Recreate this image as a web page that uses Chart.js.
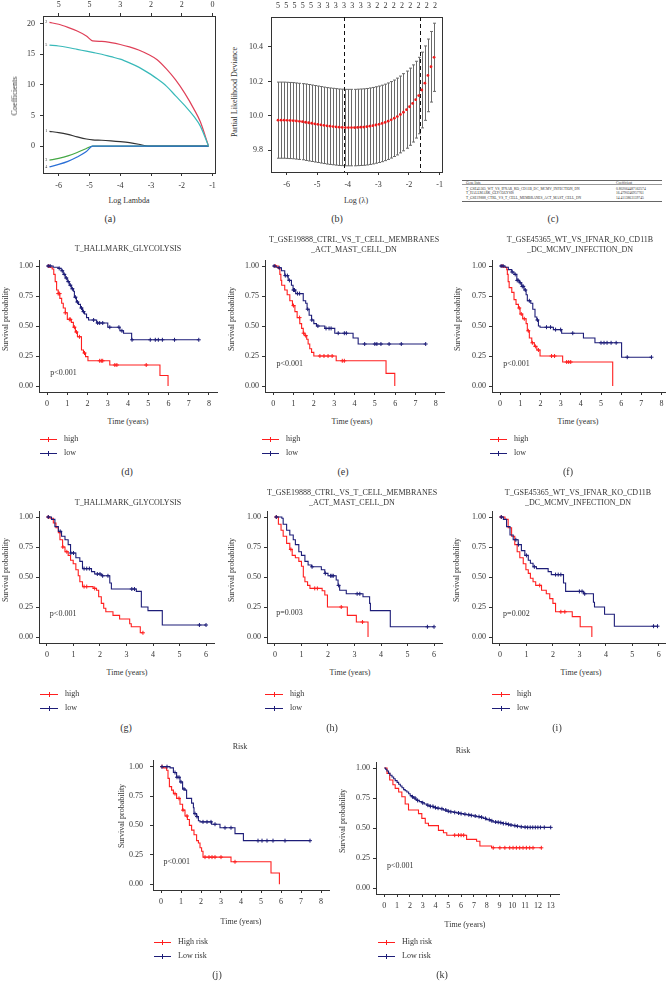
<!DOCTYPE html>
<html>
<head>
<meta charset="utf-8">
<script src="https://cdn.jsdelivr.net/npm/chart.js@4.4.1/dist/chart.umd.min.js"></script>
<style>
  html, body { margin: 0; padding: 0; background: #fff; }
  body { width: 666px; height: 981px; position: relative; overflow: hidden; font-family: "Liberation Serif", serif; color: #333; }
  canvas { position: absolute; }
  .t { position: absolute; white-space: nowrap; transform: translate(-50%, -50%); font-size: 8px; line-height: 1; }
  .l { position: absolute; white-space: nowrap; transform: translate(0, -50%); font-size: 8px; line-height: 1; }
  .lg { position: absolute; }
</style>
</head>
<body>
<script>
// ---- (a) lasso coefficient paths ----
const pathX = [-6.3, -6.0, -5.7, -5.4, -5.1, -4.9, -4.6, -4.3, -4.0, -3.7, -3.4, -3.1, -2.8, -2.5, -2.2, -1.9, -1.6, -1.4, -1.13];
const coef1 = [2.4, 2.2, 1.9, 1.5, 1.15, 1.0, 0.95, 0.85, 0.72, 0.55, 0.3, 0, 0, 0, 0, 0, 0, 0, 0];
const coef2 = [20.2, 19.9, 19.4, 18.8, 18.0, 17.2, 17.1, 16.9, 16.6, 16.2, 15.7, 15.0, 14.1, 12.6, 10.8, 8.6, 6.0, 4.0, 0];
const coef3 = [-2.3, -2.0, -1.6, -1.05, -0.4, 0, 0, 0, 0, 0, 0, 0, 0, 0, 0, 0, 0, 0, 0];
const coef4 = [-3.4, -3.0, -2.5, -1.8, -0.9, 0, 0, 0, 0, 0, 0, 0, 0, 0, 0, 0, 0, 0, 0];
const coef5 = [16.5, 16.35, 16.1, 15.8, 15.5, 15.3, 15.0, 14.6, 14.2, 13.6, 12.9, 12.0, 11.0, 9.8, 8.2, 6.6, 4.8, 3.3, 0];
const dfTicksA = [-6, -5, -4, -3, -2, -1];
const dfLabelsA = ['5', '5', '3', '2', '2', '0'];

// ---- (b) cross-validation deviance ----
const cvLam = [-6.28, -6.18, -6.08, -5.98, -5.88, -5.78, -5.68, -5.58, -5.48, -5.38, -5.28, -5.18, -5.08, -4.98, -4.88, -4.78, -4.68, -4.58, -4.48, -4.38, -4.28, -4.18, -4.08, -3.98, -3.88, -3.78, -3.68, -3.58, -3.48, -3.38, -3.28, -3.18, -3.08, -2.98, -2.88, -2.78, -2.68, -2.58, -2.48, -2.38, -2.28, -2.18, -2.08, -1.98, -1.88, -1.78, -1.68, -1.58, -1.48, -1.38, -1.28, -1.18];
const cvMean = [9.975, 9.975, 9.975, 9.974, 9.973, 9.972, 9.970, 9.968, 9.966, 9.963, 9.960, 9.957, 9.954, 9.951, 9.948, 9.945, 9.942, 9.940, 9.938, 9.936, 9.934, 9.933, 9.932, 9.932, 9.932, 9.932, 9.933, 9.934, 9.935, 9.937, 9.940, 9.943, 9.947, 9.951, 9.956, 9.962, 9.969, 9.977, 9.986, 9.996, 10.008, 10.021, 10.036, 10.053, 10.072, 10.094, 10.118, 10.150, 10.190, 10.235, 10.285, 10.340];
const cvSE = [0.221, 0.221, 0.221, 0.221, 0.221, 0.221, 0.221, 0.221, 0.221, 0.222, 0.222, 0.222, 0.222, 0.222, 0.222, 0.222, 0.222, 0.222, 0.222, 0.222, 0.222, 0.222, 0.222, 0.222, 0.222, 0.222, 0.222, 0.222, 0.222, 0.222, 0.222, 0.222, 0.222, 0.222, 0.222, 0.222, 0.222, 0.222, 0.222, 0.223, 0.223, 0.224, 0.224, 0.224, 0.224, 0.223, 0.222, 0.220, 0.216, 0.211, 0.205, 0.198];
const cvLines = [-4.11, -1.65];
const dfPosB = [-6.28, -6.01, -5.74, -5.47, -5.20, -4.93, -4.66, -4.39, -4.12, -3.85, -3.58, -3.31, -3.04, -2.77, -2.50, -2.23, -1.96, -1.69, -1.42, -1.15];
const dfLabelsB = ['5', '5', '5', '5', '5', '3', '3', '3', '3', '3', '3', '3', '2', '2', '2', '2', '2', '2', '2', '2'];

// ---- (c) table ----
const geneLists = ['T_GSE45365_WT_VS_IFNAR_KO_CD11B_DC_MCMV_INFECTION_DN', 'T_HALLMARK_GLYCOLYSIS', 'T_GSE19888_CTRL_VS_T_CELL_MEMBRANES_ACT_MAST_CELL_DN'];
const geneCoefs = ['0.802064487162574', '16.4790246957761', '14.4113863159745'];

// ---- Kaplan-Meier curves: step times (T), survival (S), censor times (C) ----
const dHiT = [0, 0.1, 0.25, 0.33, 0.4, 0.47, 0.55, 0.63, 0.72, 0.8, 0.9, 1.0, 1.2, 1.3, 1.4, 1.5, 1.7, 1.8, 1.9, 2.02, 3.1, 5.58, 5.98];
const dHiS = [1, 0.99, 0.975, 0.93, 0.87, 0.80, 0.77, 0.73, 0.69, 0.65, 0.61, 0.555, 0.53, 0.49, 0.45, 0.41, 0.30, 0.275, 0.245, 0.21, 0.175, 0.087, 0];
const dHiC = [0.08, 0.55, 0.62, 0.9, 1.1, 1.15, 1.35, 1.45, 1.6, 1.85, 2.6, 2.68, 2.75, 3.35, 3.45, 4.9];
const dLoT = [0, 0.3, 0.55, 0.7, 0.8, 0.9, 1.0, 1.1, 1.2, 1.3, 1.35, 1.45, 1.55, 1.65, 1.75, 1.85, 1.95, 2.05, 2.45, 3.0, 3.6, 3.78, 4.18];
const dLoS = [1, 0.99, 0.98, 0.96, 0.93, 0.90, 0.87, 0.84, 0.81, 0.79, 0.74, 0.70, 0.68, 0.65, 0.62, 0.60, 0.57, 0.55, 0.525, 0.49, 0.46, 0.44, 0.385];
const dLoC = [0.05, 0.15, 0.6, 0.75, 0.85, 0.95, 1.05, 1.15, 1.25, 1.4, 1.5, 1.7, 1.8, 2.3, 2.5, 2.6, 2.75, 3.1, 3.55, 3.7, 4.2, 5.1, 5.35, 5.5, 5.7, 6.3, 7.5];

const eHiT = [0, 0.25, 0.33, 0.38, 0.42, 0.57, 0.69, 0.82, 0.95, 1.07, 1.18, 1.31, 1.4, 1.48, 1.56, 1.65, 1.72, 1.8, 1.89, 2.0, 3.1, 5.55, 5.98];
const eHiS = [1, 0.98, 0.93, 0.88, 0.84, 0.80, 0.76, 0.71, 0.67, 0.62, 0.57, 0.52, 0.48, 0.44, 0.42, 0.39, 0.35, 0.31, 0.28, 0.25, 0.21, 0.105, 0];
const eHiC = [0.1, 1.0, 1.3, 1.5, 1.6, 2.3, 2.5, 2.7, 2.9, 3.4, 3.5];
const eLoT = [0, 0.15, 0.25, 0.41, 0.57, 0.74, 0.9, 0.98, 1.11, 1.48, 1.6, 1.67, 1.77, 1.89, 2.0, 2.13, 2.54, 3.03, 3.93, 4.18];
const eLoS = [1, 0.99, 0.985, 0.96, 0.92, 0.88, 0.84, 0.80, 0.77, 0.71, 0.69, 0.64, 0.59, 0.55, 0.52, 0.50, 0.48, 0.44, 0.40, 0.35];
const eLoC = [0.05, 0.3, 0.6, 0.7, 0.8, 1.0, 1.05, 1.2, 1.3, 1.7, 1.9, 2.2, 2.6, 2.75, 2.85, 3.2, 3.5, 3.6, 4.5, 5.0, 5.1, 5.3, 5.7, 6.3, 7.5];

const fHiT = [0, 0.17, 0.33, 0.36, 0.4, 0.45, 0.58, 0.69, 0.79, 0.91, 0.99, 1.12, 1.29, 1.35, 1.45, 1.57, 1.7, 1.82, 1.98, 3.1, 5.58];
const fHiS = [1, 0.99, 0.97, 0.93, 0.87, 0.82, 0.78, 0.72, 0.68, 0.65, 0.60, 0.56, 0.52, 0.46, 0.40, 0.36, 0.33, 0.30, 0.25, 0.20, 0];
const fHiC = [0.1, 0.95, 1.05, 1.2, 1.4, 1.6, 1.75, 1.9, 2.55, 2.7, 3.3, 3.4, 3.5];
const fLoT = [0, 0.25, 0.41, 0.58, 0.69, 0.83, 0.96, 1.07, 1.19, 1.29, 1.35, 1.52, 1.62, 1.73, 1.82, 1.9, 1.98, 2.64, 3.05, 4.13, 4.7, 6.02];
const fLoS = [1, 0.99, 0.97, 0.95, 0.93, 0.88, 0.86, 0.83, 0.80, 0.76, 0.71, 0.69, 0.64, 0.575, 0.55, 0.50, 0.49, 0.47, 0.44, 0.40, 0.36, 0.24];
const fLoC = [0.05, 0.15, 0.6, 0.75, 0.85, 0.9, 1.0, 1.1, 1.15, 1.25, 1.45, 1.85, 2.3, 2.5, 2.75, 3.0, 3.6, 5.0, 5.15, 5.3, 5.5, 5.75, 6.3, 7.5];

const gHiT = [0, 0.11, 0.24, 0.34, 0.43, 0.49, 0.59, 0.68, 0.8, 0.89, 0.99, 1.09, 1.18, 1.24, 1.34, 1.74, 1.87, 1.95, 2.05, 2.14, 2.22, 2.49, 2.74, 3.12, 3.18, 3.52];
const gHiS = [1, 0.99, 0.95, 0.91, 0.87, 0.81, 0.75, 0.71, 0.68, 0.64, 0.61, 0.56, 0.51, 0.46, 0.42, 0.405, 0.39, 0.335, 0.28, 0.24, 0.21, 0.18, 0.15, 0.11, 0.085, 0.035];
const gHiC = [0.05, 0.6, 0.75, 1.4, 1.5, 1.8, 3.62];
const gLoT = [0, 0.17, 0.3, 0.43, 0.55, 0.68, 0.8, 0.89, 1.09, 1.24, 1.34, 1.68, 1.8, 2.05, 2.37, 2.43, 3.37, 3.56, 3.81, 4.35];
const gLoS = [1, 0.98, 0.92, 0.88, 0.84, 0.81, 0.77, 0.70, 0.66, 0.63, 0.57, 0.545, 0.525, 0.51, 0.45, 0.40, 0.38, 0.25, 0.22, 0.10];
const gLoC = [0.05, 0.5, 0.9, 1.0, 1.4, 1.5, 1.6, 1.9, 2.0, 2.1, 2.3, 3.2, 3.3, 5.75, 6.0];

const hHiT = [0, 0.13, 0.23, 0.31, 0.44, 0.56, 0.65, 0.77, 0.9, 1.0, 1.07, 1.13, 1.23, 1.32, 1.78, 1.88, 1.98, 2.73, 3.07, 3.51];
const hHiS = [1, 0.94, 0.89, 0.84, 0.78, 0.73, 0.68, 0.66, 0.63, 0.59, 0.50, 0.46, 0.43, 0.405, 0.385, 0.35, 0.25, 0.18, 0.125, 0];
const hHiC = [0.05, 0.6, 1.5, 1.6, 2.5, 3.3];
const hLoT = [0, 0.26, 0.31, 0.44, 0.56, 0.69, 0.77, 0.9, 1.0, 1.13, 1.25, 1.38, 1.75, 1.88, 2.0, 2.31, 2.38, 2.44, 2.69, 3.32, 3.57, 3.6, 4.35];
const hLoS = [1, 0.99, 0.94, 0.89, 0.85, 0.81, 0.77, 0.71, 0.68, 0.63, 0.60, 0.585, 0.56, 0.53, 0.51, 0.475, 0.43, 0.39, 0.36, 0.335, 0.28, 0.22, 0.085];
const hLoC = [0.05, 1.4, 1.9, 2.1, 2.15, 2.2, 2.4, 3.1, 3.2, 5.75, 6.0];

const iHiT = [0, 0.19, 0.31, 0.44, 0.56, 0.65, 0.75, 0.88, 0.98, 1.07, 1.15, 1.25, 1.35, 1.57, 1.75, 1.88, 2.0, 2.1, 2.73, 3.03, 3.47];
const iHiS = [1, 0.98, 0.91, 0.84, 0.77, 0.71, 0.66, 0.61, 0.56, 0.53, 0.49, 0.46, 0.43, 0.39, 0.36, 0.32, 0.28, 0.21, 0.17, 0.085, 0];
const iHiC = [0.05, 1.5, 2.3, 2.45];
const iLoT = [0, 0.13, 0.25, 0.38, 0.5, 0.69, 0.81, 0.94, 1.07, 1.15, 1.25, 1.38, 1.82, 1.94, 2.4, 2.48, 3.16, 3.53, 3.57, 3.95, 4.32];
const iLoS = [1, 0.98, 0.92, 0.85, 0.81, 0.77, 0.72, 0.68, 0.64, 0.615, 0.585, 0.57, 0.545, 0.52, 0.45, 0.38, 0.36, 0.29, 0.25, 0.19, 0.09];
const iLoC = [0.05, 0.6, 0.7, 1.0, 1.3, 2.1, 2.2, 2.3, 3.0, 3.1, 3.2, 5.8, 5.95];

const jHiT = [0, 0.12, 0.28, 0.35, 0.42, 0.53, 0.62, 0.78, 0.95, 1.08, 1.2, 1.32, 1.42, 1.53, 1.65, 1.78, 1.87, 1.95, 2.03, 2.1, 3.5, 5.5, 5.92];
const jHiS = [1, 0.99, 0.97, 0.9, 0.83, 0.80, 0.77, 0.73, 0.68, 0.63, 0.58, 0.55, 0.50, 0.46, 0.42, 0.37, 0.35, 0.31, 0.28, 0.23, 0.19, 0.095, 0];
const jHiC = [0.05, 0.7, 0.9, 1.1, 1.3, 2.2, 2.4, 2.55, 2.7, 3.0, 3.7];
const jLoT = [0, 0.45, 0.62, 0.78, 0.95, 1.08, 1.2, 1.28, 1.53, 1.62, 1.65, 1.78, 1.87, 1.95, 2.53, 2.95, 3.7, 4.12];
const jLoS = [1, 0.99, 0.95, 0.91, 0.87, 0.81, 0.80, 0.73, 0.69, 0.65, 0.60, 0.575, 0.54, 0.53, 0.51, 0.48, 0.43, 0.37];
const jLoC = [0.05, 0.3, 0.7, 0.8, 0.9, 1.0, 1.15, 1.7, 1.8, 2.1, 2.3, 2.5, 2.7, 3.2, 3.5, 4.85, 5.05, 5.3, 5.6, 6.2, 7.45];

const kHiT = [0, 0.21, 0.42, 0.67, 0.85, 1.12, 1.37, 1.63, 1.89, 2.67, 2.93, 3.2, 3.45, 4.23, 4.62, 4.88, 6.43, 7.21, 7.47, 8.38];
const kHiS = [1, 0.955, 0.9, 0.86, 0.83, 0.80, 0.76, 0.70, 0.65, 0.62, 0.58, 0.54, 0.52, 0.48, 0.46, 0.44, 0.405, 0.39, 0.35, 0.335];
const kHiC = [5.5, 5.8, 6.0, 6.2, 8.51, 9.03, 9.42, 9.8, 10.06, 10.32, 10.58, 10.84, 11.1, 11.36, 11.62, 12.27];
const kLoT = [0, 0.1, 0.2, 0.33, 0.45, 0.6, 0.73, 0.85, 1.0, 1.12, 1.25, 1.38, 1.51, 1.63, 1.76, 1.9, 2.02, 2.15, 2.28, 2.41, 2.54, 2.73, 2.93, 3.12, 3.32, 3.58, 3.84, 4.1, 4.36, 4.62, 4.88, 5.14, 5.4, 5.66, 5.92, 6.18, 6.43, 6.69, 6.95, 7.21, 7.47, 7.73, 7.99, 8.25, 8.5, 8.76, 9.02, 9.28, 9.54, 9.8, 10.06, 10.32, 10.58, 10.84, 11.1];
const kLoS = [1, 0.99, 0.975, 0.955, 0.94, 0.925, 0.91, 0.895, 0.88, 0.865, 0.85, 0.835, 0.82, 0.81, 0.80, 0.785, 0.77, 0.76, 0.75, 0.74, 0.73, 0.72, 0.71, 0.70, 0.69, 0.68, 0.67, 0.665, 0.66, 0.65, 0.64, 0.635, 0.63, 0.625, 0.62, 0.615, 0.61, 0.605, 0.60, 0.595, 0.59, 0.58, 0.57, 0.56, 0.55, 0.548, 0.545, 0.537, 0.53, 0.525, 0.52, 0.515, 0.51, 0.507, 0.505];
const kLoC = [2.2, 2.4, 2.6, 3.0, 3.4, 3.6, 3.8, 4.0, 4.2, 4.5, 4.8, 5.0, 5.2, 5.5, 5.8, 6.0, 6.3, 6.6, 6.8, 7.1, 7.4, 7.6, 7.9, 8.2, 8.4, 8.7, 8.9, 9.1, 9.3, 9.5, 9.7, 9.9, 10.2, 10.4, 10.7, 11.0, 11.2, 11.4, 11.6, 11.8, 12.0, 12.2, 12.5, 13.0];

const yearTicks8 = [0, 1, 2, 3, 4, 5, 6, 7, 8];
const yearTicks6 = [0, 1, 2, 3, 4, 5, 6];
const yearTicks13 = [0, 1, 2, 3, 4, 5, 6, 7, 8, 9, 10, 11, 12, 13];
const survTicks = [0, 0.25, 0.5, 0.75, 1];

const FONT = '"Liberation Serif", serif';
const INK = '#333';
const RED = '#ff1f1f';
const NAVY = '#1d1d78';

// text placed in data units (p values, path numbers)
const notePlugin = {
  id: 'note',
  afterDatasetsDraw(chart, args, opts) {
    const { ctx, scales } = chart;
    (opts.items || []).forEach(it => {
      ctx.save();
      ctx.font = (it.size || 8) + 'px ' + FONT;
      ctx.fillStyle = it.color || INK;
      ctx.textAlign = it.align || 'left';
      ctx.textBaseline = 'middle';
      ctx.fillText(it.text, scales.x.getPixelForValue(it.x), scales.y.getPixelForValue(it.y));
      ctx.restore();
    });
  }
};

const errPlugin = {
  id: 'errbars',
  beforeDatasetsDraw(chart, args, opts) {
    if (!opts.x) return;
    const { ctx, scales: { x, y }, chartArea } = chart;
    ctx.save();
    ctx.strokeStyle = opts.color;
    ctx.lineWidth = 1;
    opts.x.forEach((v, i) => {
      const px = Math.round(x.getPixelForValue(v)) + 0.5;
      const y1 = y.getPixelForValue(opts.mean[i] - opts.se[i]);
      const y2 = y.getPixelForValue(opts.mean[i] + opts.se[i]);
      ctx.beginPath();
      ctx.moveTo(px, y1); ctx.lineTo(px, y2);
      ctx.moveTo(px - opts.cap, y1); ctx.lineTo(px + opts.cap, y1);
      ctx.moveTo(px - opts.cap, y2); ctx.lineTo(px + opts.cap, y2);
      ctx.stroke();
    });
    ctx.setLineDash([4, 3]);
    ctx.strokeStyle = '#111';
    (opts.vlines || []).forEach(v => {
      const px = Math.round(x.getPixelForValue(v)) + 0.5;
      ctx.beginPath(); ctx.moveTo(px, chartArea.top); ctx.lineTo(px, chartArea.bottom); ctx.stroke();
    });
    ctx.restore();
  }
};

function txt(s, x, y, o = {}) {
  const d = document.createElement('div');
  d.className = o.left ? 'l' : 't';
  d.textContent = s;
  d.style.left = x + 'px';
  d.style.top = y + 'px';
  if (o.size) d.style.fontSize = o.size + 'px';
  if (o.rot) d.style.transform = 'translate(-50%,-50%) rotate(-90deg)';
  document.body.appendChild(d);
}

function legend(x, y, w, labels, colors) {
  labels.forEach((lab, i) => {
    const yy = y + i * 14;
    const ln = document.createElement('div');
    ln.className = 'lg';
    ln.style.cssText += `left:${x}px;top:${yy}px;width:${w}px;height:1px;background:${colors[i]}`;
    const cr = document.createElement('div');
    cr.className = 'lg';
    cr.style.cssText += `left:${x + Math.floor(w / 2)}px;top:${yy - 2}px;width:1px;height:5px;background:${colors[i]}`;
    document.body.appendChild(ln);
    document.body.appendChild(cr);
    txt(lab, x + w + 7, yy, { left: true });
  });
}

function makeCanvas(box, m) {
  const c = document.createElement('canvas');
  const L = Math.round(box.l), T = Math.round(box.t);
  const W = Math.round(box.r) - L + m.l + m.r;
  const H = Math.round(box.b) - T + m.t + m.b;
  c.width = W; c.height = H;
  c.style.left = (L - m.l) + 'px';
  c.style.top = (T - m.t) + 'px';
  document.body.appendChild(c);
  return c;
}

function axis(min, max, ticks, size, o = {}) {
  return {
    type: 'linear', min, max, position: o.pos,
    afterBuildTicks: s => { s.ticks = ticks.map(v => ({ value: v })); },
    afterFit: s => { if (o.vertical) s.width = size; else s.height = size; },
    ticks: {
      display: !o.noLabels, autoSkip: false, maxRotation: 0, padding: o.pad ?? 3,
      color: INK, font: { family: FONT, size: o.fs || 8 },
      callback: o.fmt || (v => v)
    },
    grid: { display: !o.noGrid, drawOnChartArea: false, drawTicks: !o.noTicks, tickLength: o.tl ?? 3, color: INK, lineWidth: 1 },
    border: { display: true, color: INK, width: 1 }
  };
}

function stepAt(t, s, x) {
  let v = s[0];
  for (let i = 0; i < t.length; i++) if (t[i] <= x) v = s[i];
  return v;
}

function km(box, xr, xt, curves, pv, ypad = 3) {
  const m = { l: 40, t: 8, r: 6, b: 24 };
  const c = makeCanvas(box, m);
  const datasets = [];
  curves.forEach(cv => {
    const last = cv.t[cv.t.length - 1];
    const end = Math.max(last, ...cv.c);
    const pts = cv.t.map((x, i) => ({ x, y: cv.s[i] }));
    if (end > last) pts.push({ x: end, y: cv.s[cv.s.length - 1] });
    datasets.push({ type: 'line', data: pts, borderColor: cv.color, borderWidth: 1.1, stepped: true, pointRadius: 0, fill: false });
    datasets.push({ type: 'scatter', data: cv.c.map(x => ({ x, y: stepAt(cv.t, cv.s, x) })), pointStyle: 'cross', pointRadius: 2, borderColor: cv.color, borderWidth: 1 });
  });
  new Chart(c, {
    type: 'line',
    data: { datasets },
    options: {
      responsive: false, animation: false, events: [],
      layout: { padding: { left: 0, top: m.t, right: m.r, bottom: 0 } },
      plugins: { legend: { display: false }, tooltip: { enabled: false }, note: { items: [{ x: pv[0], y: pv[1], text: pv[2] }] } },
      scales: {
        x: axis(xr[0], xr[1], xt, m.b, { pad: 4 }),
        y: axis(-0.05, 1.05, survTicks, m.l, { vertical: true, pad: ypad, fmt: v => v.toFixed(2) })
      }
    },
    plugins: [notePlugin]
  });
}

// ---- (a) ----
(function () {
  const box = { l: 43, t: 16, r: 215, b: 173 };
  const m = { l: 43, t: 16, r: 6, b: 22 };
  const c = makeCanvas(box, m);
  const mk = (ys, color) => ({ data: pathX.map((x, i) => ({ x, y: ys[i] })), borderColor: color, borderWidth: 1.2, pointRadius: 0, cubicInterpolationMode: 'monotone' });
  new Chart(c, {
    type: 'line',
    data: { datasets: [mk(coef5, '#38b9b9'), mk(coef4, '#2a6fd6'), mk(coef3, '#45a845'), mk(coef2, '#df4058'), mk(coef1, '#333')] },
    options: {
      responsive: false, animation: false, events: [],
      layout: { padding: { left: 0, top: 0, right: m.r, bottom: 0 } },
      plugins: {
        legend: { display: false }, tooltip: { enabled: false },
        note: { items: [
          { x: -6.44, y: coef2[0], text: '2', size: 4 }, { x: -6.44, y: coef5[0], text: '5', size: 4 },
          { x: -6.44, y: coef1[0], text: '1', size: 4 }, { x: -6.44, y: coef3[0], text: '3', size: 4 },
          { x: -6.44, y: coef4[0], text: '4', size: 4 }] }
      },
      scales: {
        x: axis(-6.51, -0.92, [-6, -5, -4, -3, -2, -1], m.b, { pad: 5 }),
        x2: axis(-6.51, -0.92, dfTicksA, m.t, { pos: 'top', pad: 3, fmt: (v, i) => dfLabelsA[i] }),
        y: axis(-4.4, 21.25, [0, 5, 10, 15, 20], m.l, { vertical: true, pad: 5 }),
        y2: axis(-4.4, 21.25, [], 0, { vertical: true, pos: 'right', noLabels: true, noGrid: true })
      }
    },
    plugins: [notePlugin]
  });
  txt('Coefficients', 15, 96, { rot: true });
  txt('Log Lambda', 129, 201);
  txt('(a)', 110, 219, { size: 10 });
})();

// ---- (b) ----
(function () {
  const box = { l: 271, t: 17, r: 442, b: 172 };
  const m = { l: 30, t: 17, r: 6, b: 22 };
  const c = makeCanvas(box, m);
  const top = axis(-6.51, -0.92, dfPosB, m.t, { pos: 'top', pad: 6, noTicks: true, fmt: (v, i) => dfLabelsB[i] });
  top.grid = { display: false, drawTicks: false, tickLength: 0 };
  new Chart(c, {
    type: 'scatter',
    data: { datasets: [{ data: cvLam.map((x, i) => ({ x, y: cvMean[i] })), pointRadius: 1.4, backgroundColor: '#ee1c1c', borderWidth: 0 }] },
    options: {
      responsive: false, animation: false, events: [],
      layout: { padding: { left: 0, top: 0, right: m.r, bottom: 0 } },
      plugins: {
        legend: { display: false }, tooltip: { enabled: false },
        errbars: { x: cvLam, mean: cvMean, se: cvSE, color: '#6a6a6a', cap: 1.5, vlines: cvLines }
      },
      scales: {
        x: axis(-6.51, -0.92, [-6, -5, -4, -3, -2, -1], m.b, { pad: 5 }),
        x2: top,
        y: axis(9.674, 10.574, [9.8, 10.0, 10.2, 10.4], m.l, { vertical: true, pad: 5, fmt: v => v.toFixed(1) }),
        y2: axis(9.674, 10.574, [], 0, { vertical: true, pos: 'right', noLabels: true, noGrid: true })
      }
    },
    plugins: [errPlugin]
  });
  txt('Partial Likelihood Deviance', 235, 92, { rot: true });
  txt('Log (λ)', 356, 201);
  txt('(b)', 337, 219, { size: 10 });
})();

// ---- (c) table ----
(function () {
  const S = 4;
  const d = document.createElement('div');
  d.style.cssText = `position:absolute;left:462px;top:180px;width:${200 * S}px;height:${23 * S}px;transform:scale(${1 / S});transform-origin:0 0;font-family:${FONT};color:#333;font-size:${3.6 * S}px;`;
  const rule = (y, th) => `<div style="position:absolute;left:0;top:${y * S}px;width:100%;height:${th * S}px;background:#333"></div>`;
  const cell = (s, x, y) => `<div style="position:absolute;left:${x * S}px;top:${y * S}px;transform:translateY(-50%);white-space:nowrap;line-height:1">${s}</div>`;
  let h = rule(0, 0.8) + rule(4.6, 0.4) + rule(21, 0.8);
  h += cell('Gene lists', 4, 2.6) + cell('Coefficient', 154, 2.6);
  geneLists.forEach((g, i) => { h += cell(g, 4, 8.6 + i * 4.7) + cell(geneCoefs[i], 154, 8.6 + i * 4.7); });
  d.innerHTML = h;
  document.body.appendChild(d);
  txt('(c)', 553, 219, { size: 10 });
})();

// ---- KM panels ----
const hl = ['high', 'low'];
const hlr = ['High risk', 'Low risk'];
const cols = [RED, NAVY];

km({ l: 39, t: 260, r: 217, b: 392 }, [-0.4, 8.4], yearTicks8,
  [{ t: dLoT, s: dLoS, c: dLoC, color: NAVY }, { t: dHiT, s: dHiS, c: dHiC, color: RED }], [0.15, 0.11, 'p<0.001']);
txt('T_HALLMARK_GLYCOLYSIS', 128, 249);
txt('Survival probability', 6, 319, { rot: true });
txt('Time (years)', 128, 422);
legend(40, 439, 17, hl, cols);
txt('(d)', 127, 472, { size: 10 });

km({ l: 265, t: 260, r: 444, b: 392 }, [-0.4, 8.4], yearTicks8,
  [{ t: eLoT, s: eLoS, c: eLoC, color: NAVY }, { t: eHiT, s: eHiS, c: eHiC, color: RED }], [0.17, 0.18, 'p<0.001']);
txt('T_GSE19888_CTRL_VS_T_CELL_MEMBRANES', 354, 240);
txt('_ACT_MAST_CELL_DN', 354, 250);
txt('Survival probability', 232, 319, { rot: true });
txt('Time (years)', 352, 422);
legend(262, 439, 17, hl, cols);
txt('(e)', 343, 472, { size: 10 });

km({ l: 492, t: 260, r: 666, b: 392 }, [-0.4, 8.22], yearTicks8,
  [{ t: fLoT, s: fLoS, c: fLoC, color: NAVY }, { t: fHiT, s: fHiS, c: fHiC, color: RED }], [0.16, 0.18, 'p<0.001']);
txt('T_GSE45365_WT_VS_IFNAR_KO_CD11B', 580, 240);
txt('_DC_MCMV_INFECTION_DN', 580, 250);
txt('Survival probability', 458, 319, { rot: true });
txt('Time (years)', 578, 422);
legend(490, 439, 17, hl, cols);
txt('(f)', 568, 472, { size: 10 });

km({ l: 39, t: 511, r: 214, b: 643 }, [-0.3, 6.3], yearTicks6,
  [{ t: gLoT, s: gLoS, c: gLoC, color: NAVY }, { t: gHiT, s: gHiS, c: gHiC, color: RED }], [0.11, 0.195, 'p<0.001']);
txt('T_HALLMARK_GLYCOLYSIS', 128, 503);
txt('Survival probability', 6, 570, { rot: true });
txt('Time (years)', 127, 673);
legend(40, 694, 18, hl, cols);
txt('(g)', 126, 728, { size: 10 });

km({ l: 267, t: 511, r: 442, b: 643 }, [-0.3, 6.3], yearTicks6,
  [{ t: hLoT, s: hLoS, c: hLoC, color: NAVY }, { t: hHiT, s: hHiS, c: hHiC, color: RED }], [0.05, 0.2, 'p=0.003']);
txt('T_GSE19888_CTRL_VS_T_CELL_MEMBRANES', 352, 493);
txt('_ACT_MAST_CELL_DN', 352, 503);
txt('Survival probability', 232, 570, { rot: true });
txt('Time (years)', 350, 673);
legend(265, 694, 18, hl, cols);
txt('(h)', 332, 728, { size: 10 });

km({ l: 492, t: 511, r: 666, b: 643 }, [-0.3, 6.27], yearTicks6,
  [{ t: iLoT, s: iLoS, c: iLoC, color: NAVY }, { t: iHiT, s: iHiS, c: iHiC, color: RED }], [0.12, 0.195, 'p=0.002']);
txt('T_GSE45365_WT_VS_IFNAR_KO_CD11B', 578, 493);
txt('_DC_MCMV_INFECTION_DN', 578, 503);
txt('Survival probability', 457, 570, { rot: true });
txt('Time (years)', 581, 673);
legend(492, 694, 18, hl, cols);
txt('(i)', 557, 728, { size: 10 });

km({ l: 153, t: 757, r: 329, b: 890 }, [-0.4, 8.4], yearTicks8,
  [{ t: jLoT, s: jLoS, c: jLoC, color: NAVY }, { t: jHiT, s: jHiS, c: jHiC, color: RED }], [0.12, 0.19, 'p<0.001'], 7);
txt('Risk', 240, 747);
txt('Survival probability', 122, 816, { rot: true });
txt('Time (years)', 241, 922);
legend(154, 942, 17, hlr, cols);
txt('(j)', 217, 975, { size: 10 });

km({ l: 376, t: 762, r: 559, b: 894 }, [-0.65, 13.65], yearTicks13,
  [{ t: kLoT, s: kLoS, c: kLoC, color: NAVY }, { t: kHiT, s: kHiS, c: kHiC, color: RED }], [0.2, 0.186, 'p<0.001']);
txt('Risk', 463, 751);
txt('Survival probability', 343, 821, { rot: true });
txt('Time (years)', 465, 925);
legend(378, 942, 17, hlr, cols);
txt('(k)', 442, 975, { size: 10 });
</script>
</body>
</html>
